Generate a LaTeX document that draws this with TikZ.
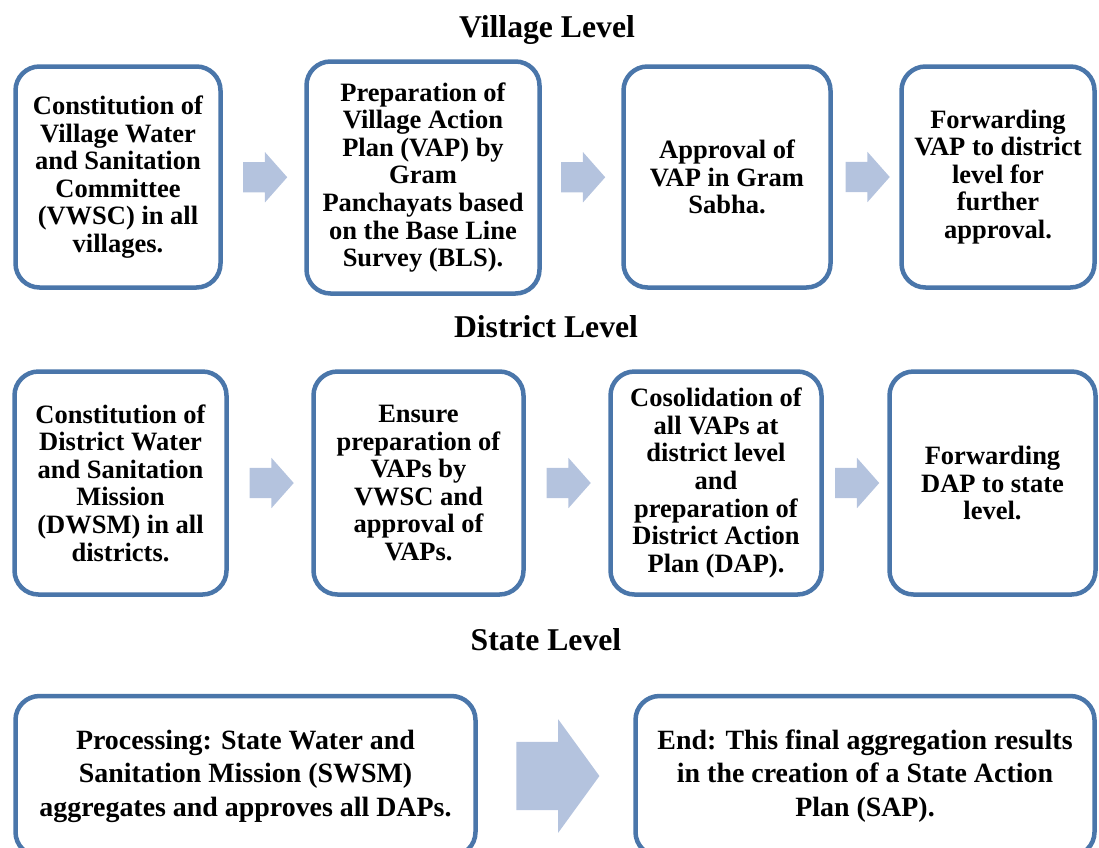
\documentclass[tikz,border=0pt]{standalone}
\usepackage{fontspec}
\setmainfont{Liberation Serif}
\usepackage{tikz}
\usetikzlibrary{calc,positioning,shapes.arrows}
\definecolor{boxblue}{RGB}{74,118,170}
\definecolor{arrblue}{RGB}{180,195,222}
\tikzset{
  stage/.style={draw=boxblue,line width=4.5pt,rounded corners=24pt,fill=white,
                align=center,inner sep=0pt,font=\bfseries\fontsize{26.5}{27.6}\selectfont},
  wide/.style={stage,font=\bfseries\fontsize{27.9}{33.5}\selectfont},
  level/.style={font=\bfseries\fontsize{31.7}{36}\selectfont},
  flow/.style={single arrow,fill=arrblue,draw=none,inner xsep=0pt,inner ysep=15pt,
               text height=0pt,text depth=0pt,text width=0pt,minimum height=44pt,
               single arrow head extend=10pt,single arrow tip angle=97,xshift=-5pt},
  bigflow/.style={flow,minimum height=83pt,inner ysep=34pt,xshift=-5pt,
                  single arrow head extend=22.5pt,single arrow tip angle=108},
}
\begin{document}
\begin{tikzpicture}[x=1pt,y=-1pt]
  \clip (0,0) rectangle (1099,847);
  \node[level] (vl) at (547,30) {Village Level};
  \node[level] (dl) at (546,327) {District Level};
  \node[level] (sl) at (546,640) {State Level};

  \node[stage,minimum width=205pt,minimum height=221pt] (v1) at (118,177)
    {Constitution of\\Village Water\\and Sanitation\\Committee\\(VWSC) in all\\villages.};
  \node[stage,minimum width=233pt,minimum height=232pt] (v2) at (423,177.5)
    {Preparation of\\Village Action\\Plan (VAP) by\\Gram\\Panchayats based\\on the Base Line\\Survey (BLS).};
  \node[stage,minimum width=207pt,minimum height=221pt] (v3) at (727,177)
    {Approval of\\VAP in Gram\\Sabha.};
  \node[stage,minimum width=193pt,minimum height=221pt] (v4) at (998,177)
    {Forwarding\\VAP to district\\level for\\further\\approval.};

  \node[stage,minimum width=212pt,minimum height=223pt] (d1) at (120.5,483)
    {Constitution of\\District Water\\and Sanitation\\Mission\\(DWSM) in all\\districts.};
  \node[stage,minimum width=210pt,minimum height=223pt] (d2) at (418.5,483)
    {Ensure\\preparation of\\VAPs by\\VWSC and\\approval of\\VAPs.};
  \node[stage,minimum width=211pt,minimum height=223pt] (d3) at (716,483)
    {Cosolidation of\\all VAPs at\\district level\\and\\preparation of\\District Action\\Plan (DAP).};
  \node[stage,minimum width=206pt,minimum height=223pt] (d4) at (992.5,483)
    {Forwarding\\DAP to state\\level.};

  \node[wide,minimum width=460pt,minimum height=160pt] (s1) at (245.5,776)
    {Processing: State Water and\\Sanitation Mission (SWSM)\\aggregates and approves all DAPs.};
  \node[wide,minimum width=459pt,minimum height=160pt] (s2) at (865,776)
    {End: This final aggregation results\\in the creation of a State Action\\Plan (SAP).};

  \node[flow] (a1) at ($(v1.east)!0.5!(v2.west)$) {};
  \node[flow] (a2) at ($(v2.east)!0.5!(v3.west)$) {};
  \node[flow] (a3) at ($(v3.east)!0.5!(v4.west)$) {};
  \node[flow] (a4) at ($(d1.east)!0.5!(d2.west)$) {};
  \node[flow] (a5) at ($(d2.east)!0.5!(d3.west)$) {};
  \node[flow] (a6) at ($(d3.east)!0.5!(d4.west)$) {};
  \node[bigflow] (a7) at ($(s1.east)!0.5!(s2.west)$) {};
\end{tikzpicture}
\end{document}
